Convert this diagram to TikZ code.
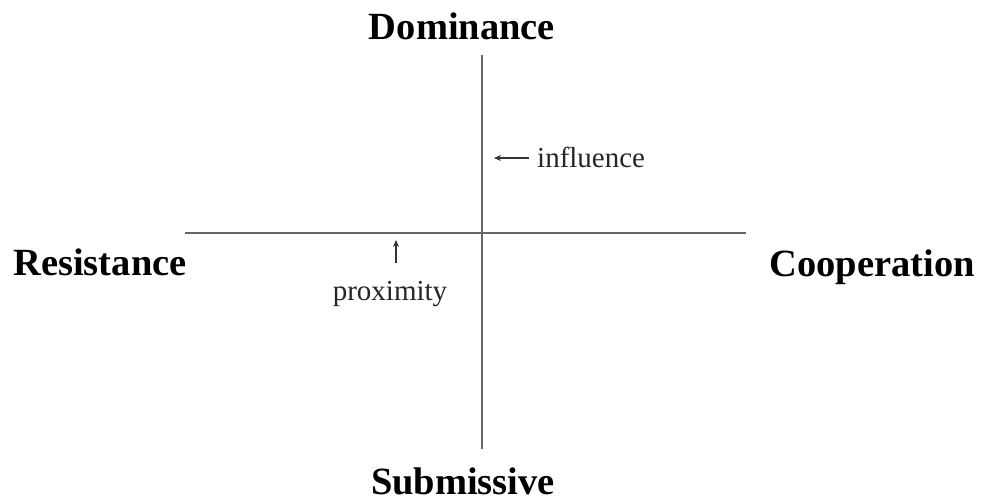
\documentclass[tikz,border=0pt]{standalone}
\usepackage{fontspec}
\setmainfont{Liberation Serif}
\usetikzlibrary{arrows.meta}
\begin{document}
\begin{tikzpicture}[x=1pt,y=-1pt,
  axis/.style={draw=black!60, line width=2pt},
  pole/.style={font=\fontsize{38.5}{40}\selectfont\bfseries, inner sep=0pt, text=black, anchor=base},
  note/.style={font=\fontsize{29}{31}\selectfont, inner sep=0pt, text=black!85, anchor=base},
  pointer/.style={draw=black!80, line width=1.6pt, -{Stealth[length=7pt,width=6pt]}}]
\useasboundingbox (0,0) rectangle (981,503);
\fill[white] (0,0) rectangle (981,503);
\coordinate (vt) at (482,55);
\coordinate (vb) at (482,449);
\coordinate (hl) at (185,233);
\coordinate (hr) at (746,233);
\draw[axis] (vt) -- (vb);
\draw[axis] (hl) -- (hr);
\node[pole] (dom) at (462,40) {Dominance};
\node[pole] (sub) at (463,494) {Submissive};
\node[pole] (res) at (100,275) {Resistance};
\node[pole] (coo) at (872,276) {Cooperation};
\node[note, anchor=base west] (inf) at (537,167) {influence};
\coordinate (infa) at (529,158);
\coordinate (infb) at (494,158);
\draw[pointer] (infa) -- (infb);
\node[note] (prox) at (390,300) {proximity};
\coordinate (pxa) at (396,263);
\coordinate (pxb) at (396,240);
\draw[pointer] (pxa) -- (pxb);
\end{tikzpicture}
\end{document}
